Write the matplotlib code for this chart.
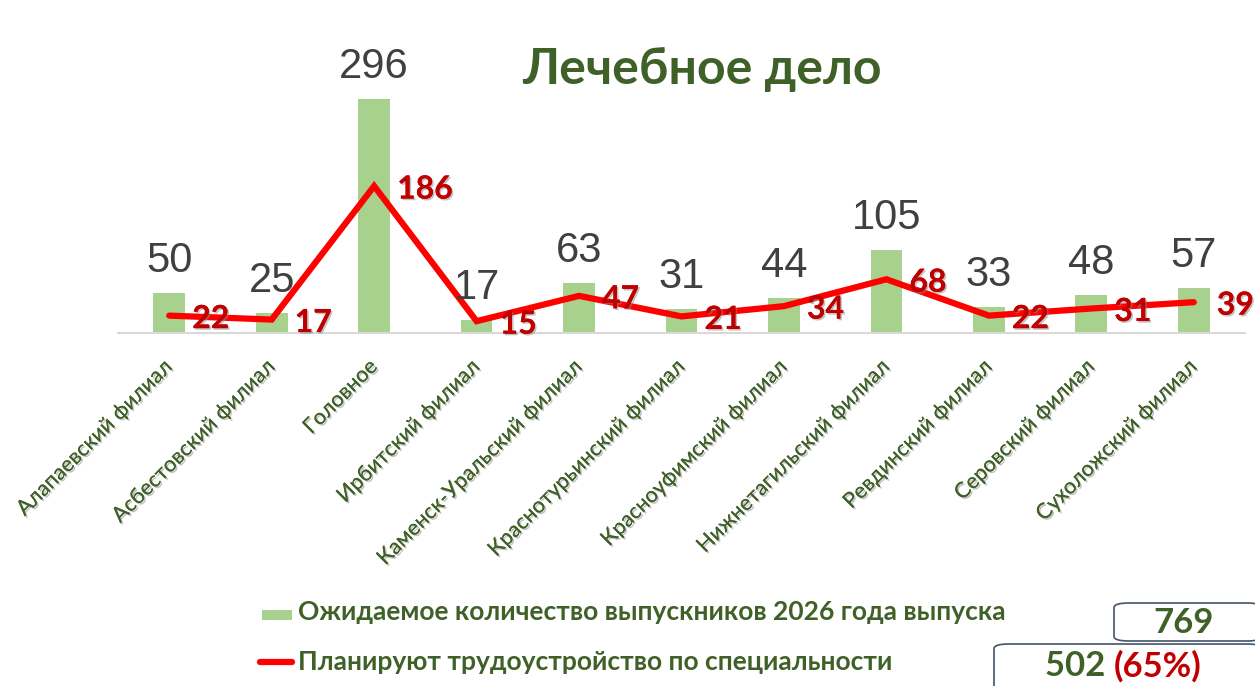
import matplotlib
matplotlib.use("Agg")
import matplotlib.pyplot as plt
import matplotlib.patheffects as pe
from matplotlib.patches import FancyBboxPatch, Rectangle
from matplotlib.lines import Line2D
from matplotlib.text import Annotation

categories = ["Алапаевский филиал", "Асбестовский филиал", "Головное", "Ирбитский филиал",
              "Каменск-Уральский филиал", "Краснотурьинский филиал", "Красноуфимский филиал",
              "Нижнетагильский филиал", "Ревдинский филиал", "Серовский филиал", "Сухоложский филиал"]
graduates = [50, 25, 296, 17, 63, 31, 44, 105, 33, 48, 57]
employed = [22, 17, 186, 15, 47, 21, 34, 68, 22, 31, 39]
title = "Лечебное дело"
legend_bar = "Ожидаемое количество выпускников 2026 года выпуска"
legend_line = "Планируют трудоустройство по специальности"
total_grad = "769"
total_emp = "502"
total_pct = "(65%)"

W, H = 1255, 686
fig = plt.figure(figsize=(W / 100, H / 100), dpi=100)

GREEN_TXT = "#3F6128"
BAR = "#A9D18E"
RED = "#FF0000"
DARKRED = "#C00000"
GRAY = "#404040"

def fx(px):
    return px / W

def fy(py):
    return 1 - py / H

ymax = 370
base_px = 333
scale = 0.79
top_px = base_px - ymax * scale
ax = fig.add_axes([fx(118), fy(base_px), fx(1245) - fx(118), (base_px - top_px) / H])
ax.set_xlim(-0.5, len(categories) - 0.5)
ax.set_ylim(0, ymax)
for s in ["top", "right", "left"]:
    ax.spines[s].set_visible(False)
ax.spines["bottom"].set_color("#D9D9D9")
ax.spines["bottom"].set_linewidth(1.5)
ax.set_yticks([])

x = list(range(len(categories)))
ax.bar(x, graduates, width=0.31, color=BAR, zorder=1)
ax.plot(x, employed, color=RED, lw=4.5, solid_capstyle="round", solid_joinstyle="miter", zorder=3)

shadow = [pe.withSimplePatchShadow(offset=(1.2, -1.2), shadow_rgbFace="#888888", alpha=0.5), pe.Normal()]

for xi, g in zip(x, graduates):
    ax.annotate(str(g), (xi, g), xytext=(0, 12), textcoords="offset pixels",
                ha="center", va="bottom", fontsize=30, color=GRAY,
                family="Liberation Sans", zorder=4)
for xi, e in zip(x, employed):
    ax.annotate(str(e), (xi, e), xytext=(23, -3), textcoords="offset pixels",
                ha="left", va="center", fontsize=23, color=DARKRED, fontweight="bold",
                family="Lato", zorder=5, path_effects=shadow)

ax.set_xticks(x)
ax.set_xticklabels(categories, rotation=45, ha="right", va="center", rotation_mode="anchor",
                   fontsize=15.5, color=GREEN_TXT, family="Lato")
ax.tick_params(axis="x", length=0, pad=22)
for t in ax.get_xticklabels():
    t.set_path_effects(shadow)

fig.text(fx(702), fy(70), title, ha="center", va="center", fontsize=36, fontweight="bold",
         color=GREEN_TXT, family="Lato")

# legend
fig.patches.append(Rectangle((fx(262), fy(620)), fx(30), 10 / H, transform=fig.transFigure,
                             facecolor=BAR, edgecolor="none"))
fig.text(fx(298), fy(612), legend_bar, ha="left", va="center", fontsize=19, fontweight="bold",
         color=GREEN_TXT, family="Lato")
fig.lines.append(Line2D([fx(260), fx(292)], [fy(662), fy(662)], transform=fig.transFigure,
                        color=RED, lw=4.5, solid_capstyle="round"))
fig.text(fx(298), fy(662), legend_line, ha="left", va="center", fontsize=19, fontweight="bold",
         color=GREEN_TXT, family="Lato")

# total boxes
fig.patches.append(FancyBboxPatch((fx(1114), fy(641)), fx(1262) - fx(1114), 38 / H,
                                  boxstyle="round,pad=0,rounding_size=0.012",
                                  transform=fig.transFigure, facecolor="white",
                                  edgecolor="#44546A", lw=1.2, mutation_aspect=H / W))
fig.text(fx(1184), fy(623), total_grad, ha="center", va="center", fontsize=25, fontweight="bold",
         color=GREEN_TXT, family="Lato")
fig.patches.append(FancyBboxPatch((fx(994), fy(690)), fx(1262) - fx(994), 46 / H,
                                  boxstyle="round,pad=0,rounding_size=0.012",
                                  transform=fig.transFigure, facecolor="white",
                                  edgecolor="#44546A", lw=1.2, mutation_aspect=H / W))
t1 = fig.text(fx(1045), fy(666), total_emp + " ", ha="left", va="center", fontsize=25,
              fontweight="bold", color=GREEN_TXT, family="Lato")
fig.add_artist(Annotation(total_pct, xy=(1, 0.5), xycoords=t1,
                          ha="left", va="center", fontsize=25,
                          fontweight="bold", color=DARKRED, family="Lato"))

fig.savefig("out.png", dpi=100)
